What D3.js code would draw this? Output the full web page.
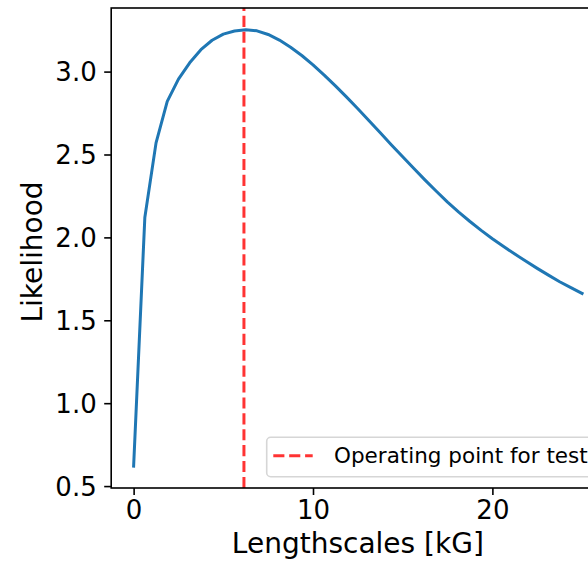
<!DOCTYPE html>
<html>
<head>
<meta charset="utf-8">
<script src="https://cdn.jsdelivr.net/npm/d3@7"></script>
<style>
  html, body { margin: 0; padding: 0; background: #fff; }
  svg { display: block; font-family: "DejaVu Sans", sans-serif; }
</style>
</head>
<body>
<svg id="chart" width="588" height="561"></svg>
<script>
// ---- data ----
const lengthscales = [0, 0.625, 1.25, 1.875, 2.5, 3.125, 3.75, 4.375, 5.0, 5.625, 6.25, 6.875,
  7.5, 8.125, 8.75, 9.375, 10.0, 10.625, 11.25, 11.875, 12.5, 13.125, 13.75, 14.375, 15.0,
  15.625, 16.25, 16.875, 17.5, 18.125, 18.75, 19.375, 20.0, 20.625, 21.25, 21.875, 22.5,
  23.125, 23.75, 24.375, 25.0];
const likelihood = [0.62, 2.12, 2.57, 2.82, 2.955, 3.053, 3.132, 3.189, 3.226, 3.245, 3.252, 3.246,
  3.224, 3.190, 3.147, 3.097, 3.0405, 2.979, 2.914, 2.846, 2.7755, 2.7035, 2.6306, 2.5577, 2.486,
  2.4152, 2.3452, 2.2781, 2.2132, 2.1527, 2.0958, 2.0423, 1.992, 1.9446, 1.8992, 1.8555, 1.8132,
  1.7724, 1.7326, 1.697, 1.662];
const operatingPoint = [6.15];
const legendLabels = ["Operating point for test"];
const xTicks = [0, 10, 20];
const yTicks = [0.5, 1.0, 1.5, 2.0, 2.5, 3.0];
const xLabel = "Lengthscales [kG]";
const yLabel = "Likelihood";

// ---- layout ----
const mLeft = 111.2, mRight = 604.5, mTop = 8, mBottom = 488;
const svg = d3.select("#chart");

const xExt = d3.extent(lengthscales), yExt = d3.extent(likelihood);
const xPad = (xExt[1] - xExt[0]) * 0.05, yPad = (yExt[1] - yExt[0]) * 0.05;
const x = d3.scaleLinear().domain([xExt[0] - xPad, xExt[1] + xPad]).range([mLeft, mRight]);
const y = d3.scaleLinear().domain([yExt[0] - yPad, yExt[1] + yPad]).range([mBottom, mTop]);

svg.append("defs").append("clipPath").attr("id", "clip")
  .append("rect").attr("x", mLeft).attr("y", mTop).attr("width", mRight - mLeft).attr("height", mBottom - mTop);

const plot = svg.append("g").attr("clip-path", "url(#clip)");

// curve
plot.append("path")
  .datum(lengthscales.map((d, i) => [d, likelihood[i]]))
  .attr("fill", "none")
  .attr("stroke", "#1f77b4")
  .attr("stroke-width", 3)
  .attr("stroke-linejoin", "round")
  .attr("stroke-linecap", "square")
  .attr("d", d3.line().x(d => x(d[0])).y(d => y(d[1])));

// vertical operating point line (drawn bottom to top)
plot.selectAll("line.op").data(operatingPoint).join("line")
  .attr("class", "op")
  .attr("x1", d => x(d)).attr("x2", d => x(d))
  .attr("y1", mBottom).attr("y2", mTop)
  .attr("stroke", "red").attr("stroke-opacity", 0.8)
  .attr("stroke-width", 3)
  .attr("stroke-dasharray", "11.1,4.8");

// axes
const xAxis = d3.axisBottom(x).tickValues(xTicks).tickSize(7).tickPadding(6).tickFormat(d3.format("d"));
const yAxis = d3.axisLeft(y).tickValues(yTicks).tickSize(7).tickPadding(7).tickFormat(d3.format(".1f"));

const gx = svg.append("g").attr("transform", `translate(0,${mBottom})`).call(xAxis);
const gy = svg.append("g").attr("transform", `translate(${mLeft},0)`).call(yAxis);
[gx, gy].forEach(g => {
  g.select(".domain").remove();
  g.selectAll(".tick line").attr("stroke", "#000").attr("stroke-width", 1.6);
  g.selectAll(".tick text").attr("fill", "#000").attr("font-size", 26)
    .attr("font-family", "DejaVu Sans");
});
gx.selectAll(".tick text").attr("dy", null).attr("y", 31).attr("dominant-baseline", "auto");
gy.selectAll(".tick text").attr("dy", "0.36em").attr("x", -14.5);

// spines
svg.append("rect")
  .attr("x", mLeft).attr("y", mTop).attr("width", mRight - mLeft).attr("height", mBottom - mTop)
  .attr("fill", "none").attr("stroke", "#000").attr("stroke-width", 1.6);

// axis labels
svg.append("text")
  .attr("x", (mLeft + mRight) / 2).attr("y", 553.3)
  .attr("text-anchor", "middle").attr("font-size", 28).attr("fill", "#000")
  .text(xLabel);
svg.append("text")
  .attr("transform", `translate(41.5,${(mTop + mBottom) / 2 + 4}) rotate(-90)`)
  .attr("text-anchor", "middle").attr("font-size", 28).attr("fill", "#000")
  .text(yLabel);

// legend
const lg = svg.append("g");
lg.append("rect")
  .attr("x", 266.7).attr("y", 437.3).attr("width", mRight - 7 - 266.7).attr("height", 39.4)
  .attr("rx", 4).attr("ry", 4)
  .attr("fill", "#fff").attr("fill-opacity", 0.8)
  .attr("stroke", "#d6d6d6").attr("stroke-width", 1.6);
lg.selectAll("line.key").data(legendLabels).join("line")
  .attr("class", "key")
  .attr("x1", 273.3).attr("x2", 312.7).attr("y1", 455.7).attr("y2", 455.7)
  .attr("stroke", "red").attr("stroke-opacity", 0.8).attr("stroke-width", 3)
  .attr("stroke-dasharray", "11.1,4.8");
lg.selectAll("text.key").data(legendLabels).join("text")
  .attr("class", "key")
  .attr("x", 334).attr("y", 462.5)
  .attr("font-size", 21.5).attr("fill", "#000")
  .text(d => d);
</script>
</body>
</html>
